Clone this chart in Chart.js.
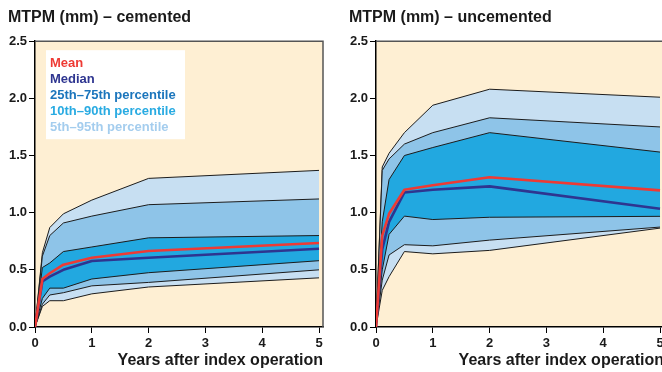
<!DOCTYPE html>
<html><head><meta charset="utf-8">
<script src="https://cdn.jsdelivr.net/npm/chart.js@4/dist/chart.umd.min.js"></script>
<style>
html,body{margin:0;padding:0;background:#fff;overflow:hidden;width:662px;height:372px;position:relative;}
.wrap{position:absolute;top:0;width:331px;height:372px;}
#w1{left:0}
#w2{left:341px}
</style></head><body>
<div class="wrap" id="w1"><canvas id="c1" width="331" height="372"></canvas></div>
<div class="wrap" id="w2"><canvas id="c2" width="331" height="372"></canvas></div>
<script>
// ---- text ----
const titles = ['MTPM (mm) – cemented', 'MTPM (mm) – uncemented'];
const xTitle = 'Years after index operation';
const yTicks = [0, 0.5, 1.0, 1.5, 2.0, 2.5];
const xTicks = [0, 1, 2, 3, 4, 5];
const legendLabels = ['Mean', 'Median', '25th–75th percentile', '10th–90th percentile', '5th–95th percentile'];

// ---- cemented ----
const yearsCem   = [0, 0.13, 0.26, 0.5, 1, 2, 5];
const cemP95     = [0, 0.65, 0.87, 0.99, 1.11, 1.30, 1.37];
const cemP90     = [0, 0.62, 0.80, 0.91, 0.97, 1.07, 1.12];
const cemP75     = [0, 0.52, 0.56, 0.66, 0.70, 0.78, 0.80];
const cemMean    = [0, 0.42, 0.47, 0.545, 0.606, 0.665, 0.735];
const cemMedian  = [0, 0.40, 0.44, 0.50, 0.577, 0.606, 0.685];
const cemP25     = [0, 0.25, 0.34, 0.34, 0.42, 0.475, 0.58];
const cemP10     = [0, 0.20, 0.28, 0.30, 0.36, 0.39, 0.50];
const cemP5      = [0, 0.18, 0.23, 0.23, 0.29, 0.35, 0.43];

// ---- uncemented ----
const yearsUnc   = [0, 0.11, 0.23, 0.5, 1, 2, 5];
const uncP95     = [0, 1.40, 1.52, 1.70, 1.94, 2.08, 2.01];
const uncP90     = [0, 1.37, 1.47, 1.60, 1.70, 1.83, 1.75];
const uncP75     = [0, 0.92, 1.29, 1.50, 1.57, 1.70, 1.53];
const uncMean    = [0, 0.80, 0.99, 1.20, 1.24, 1.31, 1.195];
const uncMedian  = [0, 0.68, 0.92, 1.177, 1.20, 1.23, 1.035];
const uncP25     = [0, 0.50, 0.81, 0.97, 0.94, 0.96, 0.968];
const uncP10     = [0, 0.41, 0.63, 0.72, 0.71, 0.76, 0.874];
const uncP5      = [0, 0.32, 0.44, 0.66, 0.64, 0.67, 0.865];

// ---- styles ----
const C = {
  bg: '#FEEFD3', band95: '#C7DFF2', band90: '#8EC4E8', band75: '#22A8E0',
  edge: '#1c1c1c', mean: '#EE3A34', median: '#2E3590', frame: '#555555', text: '#1a1a1a'
};
const legendColors = ['#EE3A34', '#2E3590', '#1B75BC', '#29ABE2', '#A4CDEE'];
const FONT = '"Liberation Sans", Arial, Helvetica, sans-serif';
Chart.defaults.font.family = FONT;

function pts(years, arr) { return years.map((x, i) => ({ x: x, y: arr[i] })); }

function makeDatasets(years, s) {
  const base = { pointRadius: 0, tension: 0, borderJoinStyle: 'round' };
  return [
    Object.assign({}, base, { label: 'P95', data: pts(years, s.p95), fill: 1, backgroundColor: C.band95, borderColor: C.edge, borderWidth: 1, order: 10 }),
    Object.assign({}, base, { label: 'P5', data: pts(years, s.p5), fill: false, borderColor: C.edge, borderWidth: 1, order: 9 }),
    Object.assign({}, base, { label: 'P90', data: pts(years, s.p90), fill: 3, backgroundColor: C.band90, borderColor: C.edge, borderWidth: 1, order: 8 }),
    Object.assign({}, base, { label: 'P10', data: pts(years, s.p10), fill: false, borderColor: C.edge, borderWidth: 1, order: 7 }),
    Object.assign({}, base, { label: 'P75', data: pts(years, s.p75), fill: 5, backgroundColor: C.band75, borderColor: C.edge, borderWidth: 1, order: 6 }),
    Object.assign({}, base, { label: 'P25', data: pts(years, s.p25), fill: false, borderColor: C.edge, borderWidth: 1, order: 5 }),
    Object.assign({}, base, { label: 'Median', data: pts(years, s.median), fill: false, borderColor: C.median, borderWidth: 2.6, order: 2 }),
    Object.assign({}, base, { label: 'Mean', data: pts(years, s.mean), fill: false, borderColor: C.mean, borderWidth: 2.6, order: 1 })
  ];
}

const bgPlugin = {
  id: 'bgArea',
  beforeDraw(chart) {
    const a = chart.chartArea, ctx = chart.ctx;
    ctx.save(); ctx.fillStyle = C.bg;
    ctx.fillRect(a.left, a.top, a.right - a.left, a.bottom - a.top);
    ctx.restore();
  },
  afterDraw(chart) {
    const a = chart.chartArea, ctx = chart.ctx;
    ctx.save(); ctx.strokeStyle = C.frame; ctx.lineWidth = 1.5;
    ctx.beginPath(); ctx.moveTo(a.left, a.top); ctx.lineTo(a.right, a.top); ctx.lineTo(a.right, a.bottom); ctx.stroke();
    ctx.restore();
  }
};

const legendPlugin = {
  id: 'textLegend',
  afterDraw(chart, args, opts) {
    if (!opts.show) return;
    const ctx = chart.ctx, a = chart.chartArea;
    const x0 = a.left + 11, y0 = a.top + 9;
    ctx.save();
    ctx.fillStyle = '#ffffff';
    ctx.fillRect(x0, y0, 139, 89);
    ctx.font = 'bold 13px ' + FONT;
    ctx.textBaseline = 'alphabetic';
    legendLabels.forEach((t, i) => {
      ctx.fillStyle = legendColors[i];
      ctx.fillText(t, x0 + 4, y0 + 16.7 + i * 16);
    });
    ctx.restore();
  }
};

function makeChart(id, title, years, s, showLegend) {
  return new Chart(document.getElementById(id), {
    type: 'line',
    data: { datasets: makeDatasets(years, s) },
    plugins: [bgPlugin, legendPlugin],
    options: {
      responsive: false, animation: false, devicePixelRatio: 1,
      layout: { padding: { left: 8, right: 8, top: 0, bottom: 0 } },
      plugins: {
        legend: { display: false }, tooltip: { enabled: false },
        filler: { propagate: false, drawTime: 'beforeDatasetDraw' },
        title: { display: true, text: title, align: 'start', color: C.text,
                 font: { size: 16, weight: 'bold' }, padding: { top: 8, bottom: 14 } },
        textLegend: { show: showLegend }
      },
      scales: {
        x: {
          type: 'linear', min: 0, max: 5.07,
          afterBuildTicks(sc) { sc.ticks = xTicks.map(v => ({ value: v })); },
          afterFit(sc) { sc.height = 45; },
          ticks: { color: C.text, font: { size: 13, weight: 'bold' }, padding: 3, maxRotation: 0,
                   callback: v => String(v) },
          grid: { drawOnChartArea: false, drawTicks: true, tickLength: 6, color: '#000', tickWidth: 1 },
          border: { display: true, color: '#000', width: 1.5 },
          title: { display: true, text: xTitle, align: 'end', color: C.text,
                   font: { size: 16, weight: 'bold' }, padding: { top: 0, bottom: 2 } }
        },
        y: {
          type: 'linear', min: 0, max: 2.5,
          afterBuildTicks(sc) { sc.ticks = yTicks.map(v => ({ value: v })); },
          afterFit(sc) { sc.width = 27; },
          ticks: { color: C.text, font: { size: 13, weight: 'bold' }, padding: 2,
                   callback: v => Number(v).toFixed(1) },
          grid: { drawOnChartArea: false, drawTicks: true, tickLength: 6, color: '#000', tickWidth: 1 },
          border: { display: true, color: '#000', width: 1.5 }
        }
      }
    }
  });
}

makeChart('c1', titles[0], yearsCem,
  { p95: cemP95, p90: cemP90, p75: cemP75, mean: cemMean, median: cemMedian, p25: cemP25, p10: cemP10, p5: cemP5 }, true);
makeChart('c2', titles[1], yearsUnc,
  { p95: uncP95, p90: uncP90, p75: uncP75, mean: uncMean, median: uncMedian, p25: uncP25, p10: uncP10, p5: uncP5 }, false);
</script>
</body></html>
